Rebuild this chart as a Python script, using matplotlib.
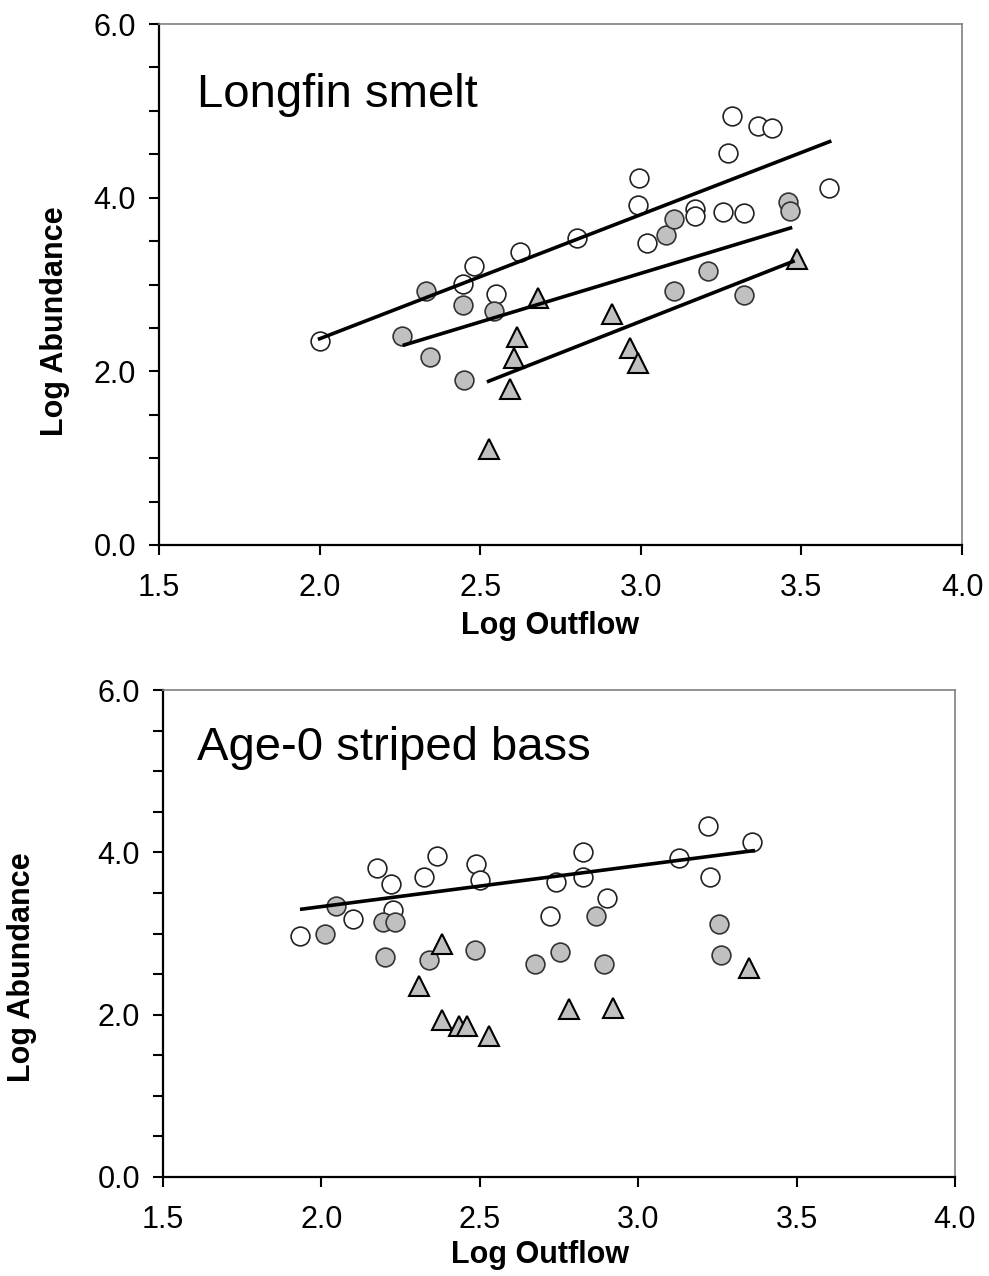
import numpy as np
import matplotlib.pyplot as plt
from matplotlib.ticker import MultipleLocator

plt.rcParams['font.family'] = ['Liberation Sans', 'DejaVu Sans']

# Longfin smelt
smelt_open_x = [2.00, 2.445, 2.48, 2.55, 2.625, 2.80, 2.995, 2.99, 3.02, 3.17, 3.17,
                3.255, 3.32, 3.27, 3.285, 3.365, 3.41, 3.585]
smelt_open_y = [2.35, 3.01, 3.21, 2.89, 3.37, 3.54, 4.23, 3.92, 3.48, 3.87, 3.79,
                3.84, 3.82, 4.52, 4.94, 4.82, 4.80, 4.11]
smelt_gray_x = [2.33, 2.257, 2.345, 2.448, 2.544, 2.45, 3.078, 3.103, 3.104, 3.21,
                3.322, 3.459, 3.466]
smelt_gray_y = [2.92, 2.41, 2.16, 2.76, 2.69, 1.90, 3.57, 3.76, 2.92, 3.16,
                2.88, 3.95, 3.85]
smelt_tri_x = [2.679, 2.616, 2.606, 2.593, 2.526, 2.91, 2.966, 2.992, 3.487]
smelt_tri_y = [2.85, 2.39, 2.15, 1.80, 1.11, 2.66, 2.27, 2.10, 3.29]
# regression lines (end points)
smelt_fit_open = ([2.0, 3.588], [2.375, 4.646])
smelt_fit_gray = ([2.264, 3.466], [2.304, 3.651])
smelt_fit_tri = ([2.526, 3.474], [1.886, 3.266])

# Age-0 striped bass
bass_open_x = [1.932, 2.177, 2.219, 2.226, 2.099, 2.324, 2.365, 2.487, 2.50, 2.74,
               2.721, 2.825, 2.825, 2.90, 3.128, 3.22, 3.228, 3.358]
bass_open_y = [2.97, 3.81, 3.61, 3.29, 3.18, 3.69, 3.95, 3.86, 3.66, 3.64,
               3.21, 4.01, 3.69, 3.44, 3.93, 4.33, 3.69, 4.13]
bass_gray_x = [2.045, 2.011, 2.193, 2.232, 2.20, 2.339, 2.486, 2.673, 2.752, 2.866,
               2.892, 3.254, 3.262]
bass_gray_y = [3.34, 3.00, 3.14, 3.14, 2.71, 2.67, 2.80, 2.62, 2.77, 3.22,
               2.63, 3.12, 2.73]
bass_tri_x = [2.381, 2.307, 2.381, 2.434, 2.46, 2.528, 2.78, 2.92, 3.349]
bass_tri_y = [2.87, 2.35, 1.93, 1.86, 1.86, 1.74, 2.07, 2.08, 2.57]
bass_fit_open = ([1.938, 3.363], [3.30, 4.02])

fig = plt.figure(figsize=(9.89, 12.76), dpi=100)


def panel(rect, title, title_pos, opens, grays, tris, fits, ylab_x, xlab_pos):
    ax = fig.add_axes(rect)
    ax.plot(opens[0], opens[1], 'o', ms=13.5, mfc='white', mec='#222222', mew=1.2, zorder=3)
    ax.plot(grays[0], grays[1], 'o', ms=13.5, mfc='#c0c0c0', mec='#333333', mew=1.2, zorder=4)
    ax.plot(tris[0], tris[1], '^', ms=14.5, mfc='#c0c0c0', mec='black', mew=1.5, zorder=5)
    for fx, fy in fits:
        ax.plot(fx, fy, '-', color='black', lw=2.6, zorder=6)

    ax.set_xlim(1.5, 4.0)
    ax.set_ylim(0.0, 6.0)
    ax.xaxis.set_major_locator(MultipleLocator(0.5))
    ax.yaxis.set_major_locator(MultipleLocator(2.0))
    ax.yaxis.set_minor_locator(MultipleLocator(0.5))
    ax.xaxis.set_major_formatter(plt.FormatStrFormatter('%.1f'))
    ax.yaxis.set_major_formatter(plt.FormatStrFormatter('%.1f'))
    ax.tick_params(axis='both', which='both', direction='out', length=7.5, width=1.5,
                   color='black', labelsize=22)
    ax.tick_params(axis='x', pad=13)
    ax.tick_params(axis='y', pad=9)
    ax.tick_params(top=False, right=False)

    for s in ['left', 'bottom']:
        ax.spines[s].set_color('black')
        ax.spines[s].set_linewidth(1.6)
    for s in ['top', 'right']:
        ax.spines[s].set_color('#808080')
        ax.spines[s].set_linewidth(1.2)

    ax.text(title_pos[0], title_pos[1], title, transform=ax.transAxes,
            fontsize=34, ha='left', va='baseline')
    ax.set_xlabel('Log Outflow', fontsize=22, fontweight='bold', va='center')
    ax.xaxis.set_label_coords(xlab_pos[0], xlab_pos[1])
    ax.set_ylabel('Log Abundance', fontsize=22, fontweight='bold', va='center')
    ax.yaxis.set_label_coords(ylab_x, 0.43)
    return ax


panel([159 / 989, 1 - 545 / 1276, 803 / 989, 521 / 1276], 'Longfin smelt', (0.047, 0.841),
      (smelt_open_x, smelt_open_y), (smelt_gray_x, smelt_gray_y), (smelt_tri_x, smelt_tri_y),
      [smelt_fit_open, smelt_fit_gray, smelt_fit_tri], -0.13, (0.487, -0.155))

panel([163 / 989, 1 - 1177 / 1276, 792 / 989, 487 / 1276], 'Age-0 striped bass', (0.043, 0.856),
      (bass_open_x, bass_open_y), (bass_gray_x, bass_gray_y), (bass_tri_x, bass_tri_y),
      [bass_fit_open], -0.178, (0.476, -0.16))

fig.savefig('out.png', dpi=100)
